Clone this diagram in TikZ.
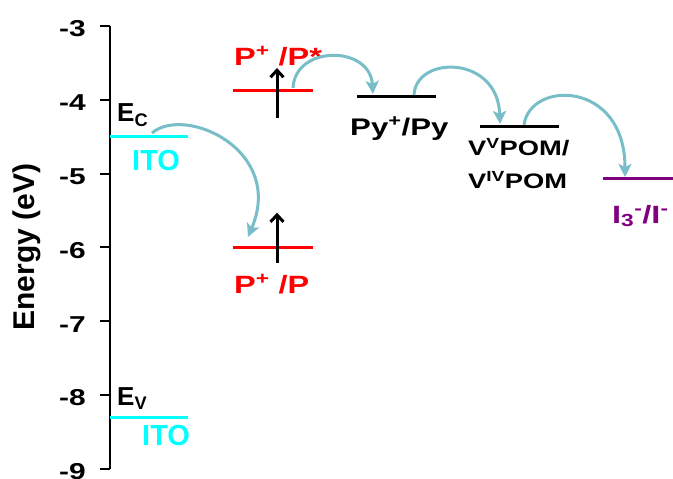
\documentclass[tikz,border=0pt]{standalone}
\usepackage{fontspec}
\setmainfont{Liberation Sans}
\newfontfamily\widesans[FakeStretch=1.3]{Liberation Sans}
\usetikzlibrary{arrows.meta}
\definecolor{itocyan}{RGB}{0,255,255}
\definecolor{dyered}{RGB}{255,0,0}
\definecolor{iodpurple}{RGB}{128,0,128}
\definecolor{hopteal}{RGB}{120,190,200}

\begin{document}
\begin{tikzpicture}[x=1bp, y=73.8bp,
        level/.style={line width=3bp},
        hop/.style={-{Stealth[length=13bp, width=13bp, inset=3bp]}, hopteal, line width=3bp},
        excite/.style={-{Straight Barb[length=7bp, width=13bp]}, line width=3bp},
        ticklbl/.style={font=\widesans\bfseries\fontsize{23bp}{27bp}\selectfont, inner sep=0pt, anchor=base east},
        lbl/.style={font=\widesans\bfseries\fontsize{25bp}{30bp}\selectfont, inner sep=0pt, anchor=base west},
        band/.style={font=\bfseries\fontsize{26bp}{30bp}\selectfont, inner sep=0pt, anchor=base west}
    ]
        \useasboundingbox (0,-2.648) rectangle (673,-9.125);

        % Energy axis
        \draw[line width=2.5bp] (110,-3) -- (110,-9);
        \foreach \e [count=\i] in {-3,-4,...,-9} {
            \draw[line width=2bp] (100,\e) -- (110,\e);
            \node[ticklbl] (tick\i) at (86,\e-0.149) {\e};
        }
        \node[rotate=90, font=\bfseries\fontsize{30bp}{36bp}\selectfont] (ylabel) at (27,-5.995) {Energy (eV)};

        % ITO
        \draw[level, itocyan] (110,-4.5) -- (188,-4.5);
        \draw[level, itocyan] (110,-8.3) -- (188,-8.3);
        \node[band] (ec) at (117,-4.30) {E\textsubscript{C}};
        \node[band] (ev) at (117,-8.136) {E\textsubscript{V}};
        \node[band, text=itocyan, font=\bfseries\fontsize{29bp}{34bp}\selectfont] (ito1) at (132,-4.965) {ITO};
        \node[band, text=itocyan, font=\bfseries\fontsize{29bp}{34bp}\selectfont] (ito2) at (142,-8.678) {ITO};

        % Dye
        \draw[level, dyered] (233,-3.88) -- (313,-3.88);
        \draw[level, dyered] (233,-6.0) -- (313,-6.0);
        \draw[excite] (277,-4.25) -- (277,-3.57);
        \draw[excite] (277,-6.21) -- (277,-5.53);
        \node[lbl, text=dyered] (pstar) at (234,-3.54) {P\textsuperscript{+} /P*};
        \node[lbl, text=dyered] (pgr) at (234,-6.62) {P\textsuperscript{+} /P};

        % Py, POM, iodide
        \draw[level] (357,-3.95) -- (436,-3.95);
        \draw[level] (480,-4.36) -- (559,-4.36);
        \draw[level, iodpurple] (603,-5.07) -- (673,-5.07);
        \node[lbl, font=\widesans\bfseries\fontsize{24bp}{29bp}\selectfont] (py) at (350,-4.48) {Py\textsuperscript{+}/Py};
        \node[lbl, anchor=north west, align=left, font=\widesans\bfseries\fontsize{21bp}{33bp}\selectfont] (pom) at (468,-4.518) {V\textsuperscript{V}POM/\\V\textsuperscript{IV}POM};
        \node[lbl, text=iodpurple] (iod) at (612,-5.67) {I\textsubscript{3}\textsuperscript{-}/I\textsuperscript{-}};

        % electron hops
        \coordinate (ito-out) at (152,-4.45);
        \coordinate (pgr-in) at (248,-5.859);
        \coordinate (pstar-out) at (293,-3.84);
        \coordinate (py-in) at (373,-3.921);
        \coordinate (py-out) at (414,-3.935);
        \coordinate (pom-in) at (500,-4.328);
        \coordinate (pom-out) at (524,-4.341);
        \coordinate (iod-in) at (625,-5.046);
        \draw[hop] (ito-out) .. controls +(33,0.38) and +(37,1.18) .. (pgr-in);
        \draw[hop] (pstar-out) .. controls +(2,0.583) and +(-3,0.664) .. (py-in);
        \draw[hop] (py-out) .. controls +(2,0.542) and +(-2,0.935) .. (pom-in);
        \draw[hop] (pom-out) .. controls +(6,0.609) and +(0,1.314) .. (iod-in);
    \end{tikzpicture}
\end{document}
